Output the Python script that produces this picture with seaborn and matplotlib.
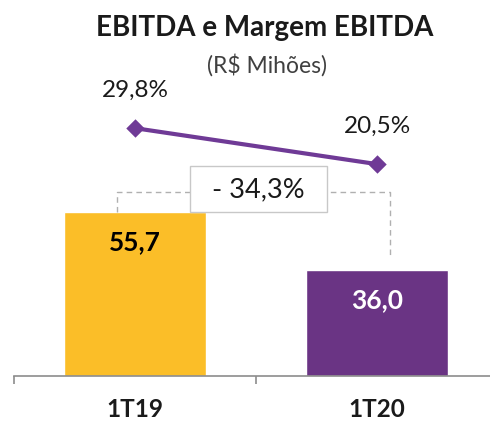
import numpy as np
import pandas as pd
import matplotlib
matplotlib.use("Agg")
import matplotlib.pyplot as plt
import seaborn as sns
from matplotlib.patches import Rectangle

# data
periods = ["1T19", "1T20"]
ebitda = [55.7, 36.0]
margin = [29.8, 20.5]
ebitda_labels = ["55,7", "36,0"]
margin_labels = ["29,8%", "20,5%"]
variation_label = "- 34,3%"

bar_colors = ["#FBBE28", "#6A3484"]
label_colors = ["black", "white"]
line_color = "#6F3A96"

sns.set_theme(style="white")
plt.rcParams["font.family"] = ["Lato", "DejaVu Sans"]

df = pd.DataFrame({"periodo": periods, "ebitda": ebitda, "margem": margin})

fig = plt.figure(figsize=(4.9, 4.21), dpi=100)
ax = fig.add_axes([0.0286, 0.1069, 0.9878, 0.798])

sns.barplot(data=df, x="periodo", y="ebitda", hue="periodo", palette=bar_colors,
            width=0.587, legend=False, ax=ax, saturation=1)
ax.set_ylim(0, 114.1)
ax.set_xlim(-0.5, 1.5)

# bar value labels
for i, (v, lab) in enumerate(zip(ebitda, ebitda_labels)):
    ax.annotate(lab, (i, v), xytext=(0, -22), textcoords="offset points",
                ha="center", va="center", fontsize=19, fontweight="bold",
                color=label_colors[i])

# variation bracket
level = max(ebitda) + 6.8
ax.plot([-0.074, -0.074, 1.054, 1.054], [ebitda[0], level, level, ebitda[1] + 5],
        color="#B0B0B0", lw=1, ls=(0, (4, 3)), zorder=3)
ax.add_patch(Rectangle((0.51 - 0.283, level - 6.9), 0.566, 15.6, facecolor="white",
                       edgecolor="#C8C8C8", lw=1, zorder=4))
ax.text(0.51, level + 0.9, variation_label, ha="center", va="center", fontsize=19.5,
        color="#1a1a1a", zorder=5)

# margin line on secondary axis
ax2 = ax.twinx()
sns.pointplot(data=df, x="periodo", y="margem", color=line_color, markers="D",
              linestyles="-", ax=ax2, markersize=7, linewidth=3)
ax2.set_ylim(-34.3, 52.6)
ax2.set_xlim(-0.5, 1.5)
for i, (v, lab) in enumerate(zip(margin, margin_labels)):
    ax2.annotate(lab, (i, v), xytext=(0, 27), textcoords="offset points",
                 ha="center", va="center", fontsize=17.5, color="#1a1a1a")
ax2.set_yticks([])
ax2.set_ylabel("")
for s in ax2.spines.values():
    s.set_visible(False)

# axes styling
ax.set_yticks([])
ax.set_ylabel("")
ax.set_xlabel("")
for s in ["left", "right", "top"]:
    ax.spines[s].set_visible(False)
ax.spines["bottom"].set_color("#8C8C8C")
ax.spines["bottom"].set_linewidth(1.2)
ax.set_xticks(range(len(periods)))
ax.set_xticklabels(periods, fontsize=17.5, fontweight="bold", color="#1a1a1a")
ax.set_xticks([-0.5, 0.5, 1.5], minor=True)
ax.tick_params(axis="x", which="major", length=0, pad=16)
ax.tick_params(axis="x", which="minor", length=6, width=1.2, color="#8C8C8C",
               bottom=True, direction="out")

fig.text(0.541, 0.933, "EBITDA e Margem EBITDA", ha="center", va="center",
         fontsize=20, fontweight="bold", color="#1a1a1a")
fig.text(0.545, 0.846, "(R$ Mihões)", ha="center", va="center", fontsize=16.5,
         color="#404040")

fig.savefig("out.png", dpi=100)
